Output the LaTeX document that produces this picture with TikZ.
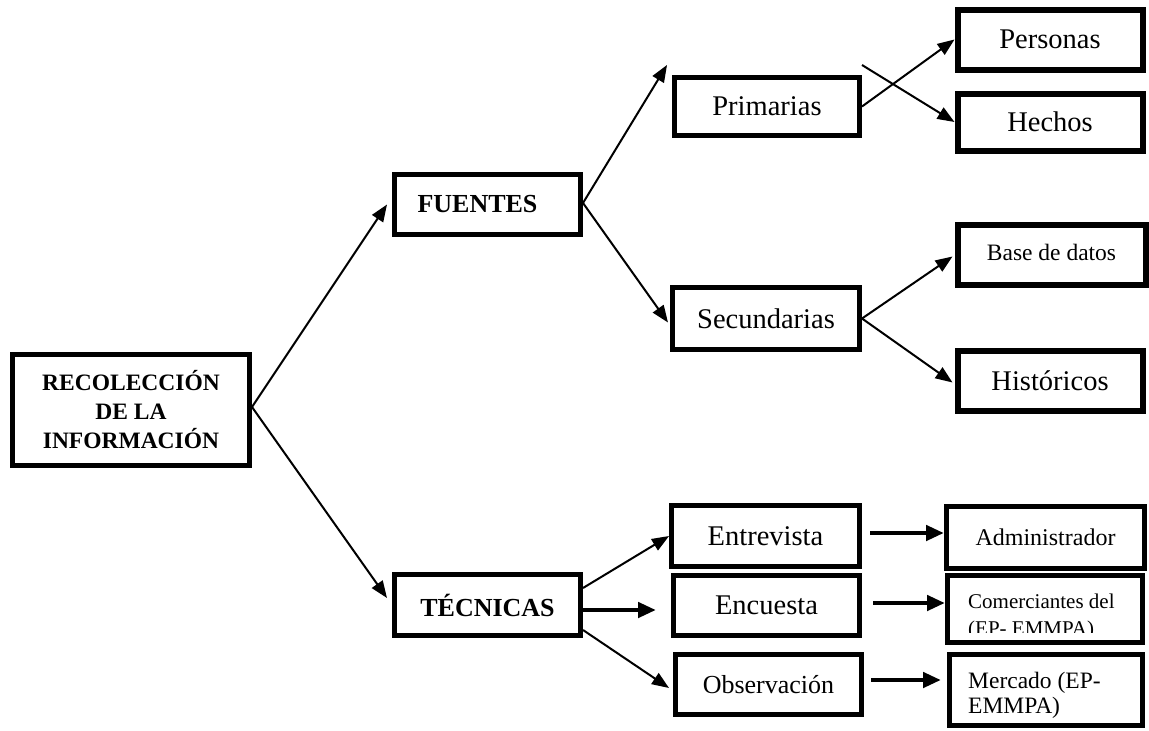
\documentclass[tikz,border=0pt]{standalone}
\usepackage{fontspec}
\setmainfont{Liberation Serif}
\usetikzlibrary{arrows.meta,calc}

\begin{document}
\begin{tikzpicture}[x=1pt,y=-1pt,
  box/.style={draw, line width=5pt, rectangle, inner sep=0pt},
  fbig/.style={font=\fontsize{28.5pt}{34pt}\selectfont},
  fhead/.style={font=\fontsize{26pt}{31pt}\selectfont\bfseries},
  arr/.style={line width=2pt, -{Triangle[length=17pt,width=13pt]}},
  harr/.style={line width=4.5pt, -{Triangle[length=18pt,width=15pt]}}
]
\useasboundingbox (0,0) rectangle (1149,731);

% root
\node[box, minimum width=237pt, minimum height=111pt, align=center,
      font=\fontsize{23.5pt}{29pt}\selectfont\bfseries] (rec) at (131,410)
      {RECOLECCIÓN\\DE LA\\INFORMACIÓN};

% first level
\node[box, fhead, minimum width=186pt, minimum height=60pt] (fuentes) at (487.5,204.5) {FUENTES\hspace*{20pt}};
\node[box, fhead, minimum width=186pt, minimum height=61pt] (tecnicas) at (487.5,605) {TÉCNICAS};

% sources
\node[box, fbig, minimum width=185pt, minimum height=58pt] (primarias) at (767,106.5) {Primarias};
\node[box, fbig, minimum width=187pt, minimum height=62pt] (secundarias) at (766,318.5) {Secundarias};
\node[box, fbig, line width=6pt, minimum width=185pt, minimum height=60pt] (personas) at (1050,39.5) {Personas};
\node[box, fbig, line width=6pt, minimum width=185pt, minimum height=57pt] (hechos) at (1050,122) {Hechos};
\node[box, line width=6pt, font=\fontsize{23.5pt}{28pt}\selectfont, minimum width=188pt, minimum height=60pt] (base) at (1051.5,254.5) {\raisebox{5pt}{Base de datos}};
\node[box, fbig, line width=6pt, minimum width=185pt, minimum height=60pt] (historicos) at (1050,380.5) {Históricos};

% techniques
\node[box, fbig, minimum width=188pt, minimum height=61pt] (entrevista) at (765.5,536) {Entrevista};
\node[box, fbig, minimum width=186pt, minimum height=60pt] (encuesta) at (766.5,605.5) {Encuesta};
\node[box, font=\fontsize{26pt}{31pt}\selectfont, minimum width=186pt, minimum height=60pt] (observacion) at (768.5,684.5) {Observación};

% targets
\node[box, font=\fontsize{24pt}{28pt}\selectfont, minimum width=198pt, minimum height=62pt] (admin) at (1045.5,537.5) {Administrador};
\node[box, minimum width=195pt, minimum height=67pt] (comerciantes) at (1045,609) {};
\node[box, minimum width=193pt, minimum height=71pt] (mercado) at (1046,690) {};

% two-line labels that overflow and are cut off inside their boxes
\begin{scope}
  \clip ([shift={(5pt,-5pt)}]comerciantes.north west) rectangle (comerciantes.east |- 0,632);
  \node[anchor=base west, inner sep=0pt, font=\fontsize{21pt}{25pt}\selectfont] (comA) at (968,608) {Comerciantes del};
  \node[anchor=base west, inner sep=0pt, font=\fontsize{21pt}{25pt}\selectfont] (comB) at (968,635) {(EP- EMMPA)};
\end{scope}
\begin{scope}
  \clip ([shift={(5pt,-5pt)}]mercado.north west) rectangle (mercado.east |- 0,717);
  \node[anchor=base west, inner sep=0pt, font=\fontsize{23.5pt}{28pt}\selectfont] (merA) at (968,688) {Mercado (EP-};
  \node[anchor=base west, inner sep=0pt, font=\fontsize{23.5pt}{28pt}\selectfont] (merB) at (968,713) {EMMPA)};
\end{scope}

% connectors
\draw[arr] ([yshift=3pt]rec.east) -- ([xshift=-5pt]fuentes.west);
\draw[arr] ([yshift=3pt]rec.east) -- ([xshift=-5pt,yshift=7pt]tecnicas.west);

\draw[arr] ([yshift=1.5pt]fuentes.east) -- ([xshift=-5pt,yshift=10pt]primarias.north west);
\draw[arr] ([yshift=1.5pt]fuentes.east) -- ([xshift=-2pt,yshift=-4pt]secundarias.west);

\coordinate (cross) at ([yshift=10pt]primarias.north east);
\draw[arr] (primarias.east) -- (personas.west);
\draw[arr] (cross) -- (hechos.west);

\draw[arr] (secundarias.east) -- ([xshift=-2pt,yshift=-2pt]base.west);
\draw[arr] (secundarias.east) -- ([xshift=-2pt,yshift=-2pt]historicos.west);

\draw[arr] ([yshift=17pt]tecnicas.east) -- (entrevista.west);
\draw[harr] ([yshift=-5pt]tecnicas.east) -- ([xshift=-15pt,yshift=-4.5pt]encuesta.west);
\draw[arr] ([yshift=-25pt]tecnicas.east) -- ([xshift=-4pt,yshift=-3.5pt]observacion.west);

\draw[harr] ([xshift=8pt,yshift=3pt]entrevista.east) -- ([yshift=4.5pt]admin.west);
\draw[harr] ([xshift=11pt,yshift=2.5pt]encuesta.east) -- ([yshift=6pt]comerciantes.west);
\draw[harr] ([xshift=7pt,yshift=4.5pt]observacion.east) -- ([xshift=-6pt,yshift=10pt]mercado.west);
\end{tikzpicture}
\end{document}
